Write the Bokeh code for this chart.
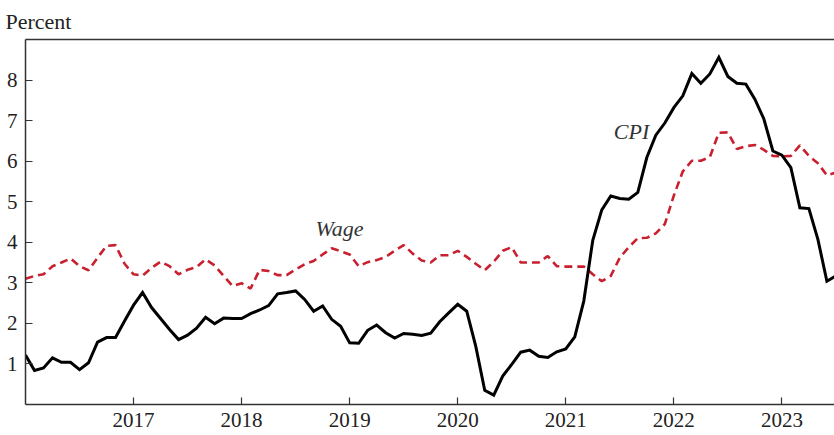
import pandas as pd
from bokeh.plotting import figure
from bokeh.models import Range1d, LinearAxis, FixedTicker
from bokeh.core.properties import value
from bokeh.embed import file_html
from bokeh.resources import INLINE

# Monthly observations, Jan 2016 .. Jul 2023
months = pd.date_range("2016-01-01", "2023-07-01", freq="MS")

cpi = [1.22, 0.84, 0.90, 1.15, 1.04, 1.04, 0.86, 1.03, 1.54, 1.65, 1.65, 2.06,
       2.45, 2.76, 2.39, 2.12, 1.85, 1.60, 1.71, 1.88, 2.15, 1.99, 2.13, 2.12,
       2.12, 2.24, 2.33, 2.44, 2.73, 2.76, 2.80, 2.59, 2.30, 2.43, 2.10, 1.93,
       1.52, 1.51, 1.83, 1.96, 1.77, 1.64, 1.75, 1.73, 1.70, 1.76, 2.04, 2.26,
       2.47, 2.30, 1.44, 0.35, 0.23, 0.70, 0.99, 1.29, 1.34, 1.19, 1.16, 1.30,
       1.37, 1.67, 2.55, 4.05, 4.80, 5.14, 5.08, 5.06, 5.23, 6.09, 6.64, 6.94,
       7.32, 7.61, 8.16, 7.92, 8.15, 8.56, 8.09, 7.92, 7.90, 7.53, 7.04, 6.25,
       6.15, 5.84, 4.85, 4.83, 4.07, 3.04, 3.17]

wage = [3.10, 3.17, 3.21, 3.41, 3.50, 3.60, 3.41, 3.31, 3.62, 3.91, 3.93, 3.47,
        3.21, 3.18, 3.37, 3.52, 3.41, 3.21, 3.32, 3.39, 3.58, 3.43, 3.17, 2.92,
        2.99, 2.86, 3.32, 3.29, 3.19, 3.19, 3.33, 3.46, 3.54, 3.70, 3.85, 3.78,
        3.70, 3.41, 3.51, 3.56, 3.64, 3.79, 3.93, 3.72, 3.55, 3.50, 3.68, 3.68,
        3.79, 3.64, 3.47, 3.31, 3.52, 3.79, 3.88, 3.50, 3.50, 3.50, 3.66, 3.41,
        3.40, 3.40, 3.40, 3.21, 3.04, 3.17, 3.62, 3.88, 4.10, 4.11, 4.22, 4.45,
        5.15, 5.75, 6.01, 6.01, 6.10, 6.70, 6.71, 6.30, 6.37, 6.40, 6.28, 6.13,
        6.12, 6.13, 6.39, 6.13, 5.95, 5.65, 5.72]

year_ticks = [2017, 2018, 2019, 2020, 2021, 2022, 2023]
y_ticks = [1, 2, 3, 4, 5, 6, 7, 8]
series_labels = ["CPI", "Wage"]
unit_label = "Percent"

x = list(months.year + (months.month - 1) / 12.0)

FONT = "Liberation Serif"
TXT = "#222222"
AX = "#333333"
RED = "#c8202f"

p = figure(width=834, height=435,
           x_range=Range1d(2016.0, 2023.487), y_range=Range1d(0, 9),
           output_backend="svg", toolbar_location=None,
           min_border_left=25, min_border_right=0,
           min_border_top=39, min_border_bottom=31)
p.outline_line_color = None
p.grid.visible = False
p.background_fill_color = "white"
p.border_fill_color = "white"

# unit label "Percent" above the top-left corner of the frame
p.title.text = unit_label
p.title.align = "left"
p.title.offset = -20
p.title.standoff = 12
p.title.text_font = FONT
p.title.text_font_size = "22px"
p.title.text_font_style = "normal"
p.title.text_color = TXT

for ax in (p.xaxis[0], p.yaxis[0]):
    ax.axis_line_color = AX
    ax.axis_line_width = 1.5
    ax.major_tick_line_color = AX
    ax.major_tick_line_width = 1.2
    ax.major_tick_in = 7
    ax.major_tick_out = 0
    ax.minor_tick_line_color = None
    ax.major_label_text_font = FONT
    ax.major_label_text_font_size = "21px"
    ax.major_label_text_color = TXT

p.xaxis[0].ticker = FixedTicker(ticks=year_ticks)
p.xaxis[0].major_label_overrides = {t: str(t) for t in year_ticks}
p.xaxis[0].major_label_standoff = 8
p.yaxis[0].ticker = FixedTicker(ticks=y_ticks)
p.yaxis[0].major_label_standoff = 8

top = LinearAxis(ticker=FixedTicker(ticks=[]), axis_line_color=AX,
                 axis_line_width=1.5, major_tick_in=0, major_tick_out=0,
                 minor_tick_line_color=None, major_label_text_font_size="0px",
                 major_label_standoff=0)
p.add_layout(top, "above")

p.line(x, wage, line_color=RED, line_width=2.6, line_dash="8 5")
p.line(x, cpi, line_color="black", line_width=3, line_join="miter")

p.text(x=[2021.445, 2018.684], y=[6.72, 4.34], text=series_labels,
       text_font=value(FONT), text_font_style="italic", text_font_size="22px",
       text_color="#333333", text_baseline="alphabetic", text_align="left")

open("out.html", "w").write(file_html(p, INLINE))
